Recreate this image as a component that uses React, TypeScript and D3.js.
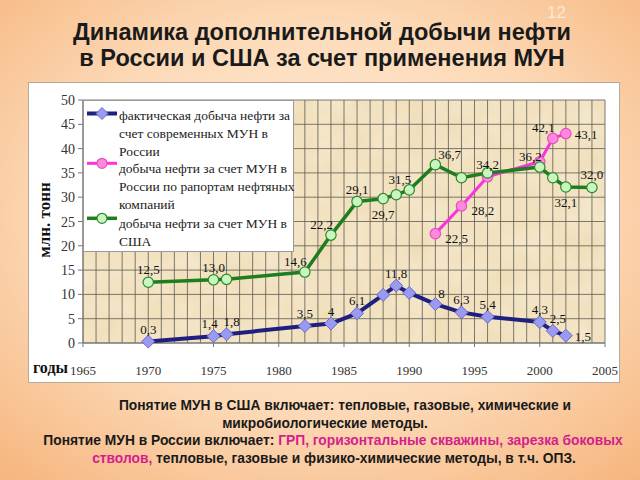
import React from "react";
import * as d3 from "d3";

const years = [1965, 1970, 1975, 1980, 1985, 1990, 1995, 2000, 2005];
const yTicks = [0, 5, 10, 15, 20, 25, 30, 35, 40, 45, 50];

const blueYears = [1970, 1975, 1976, 1982, 1984, 1986, 1988, 1989, 1990, 1992, 1994, 1996, 2000, 2001, 2002];
const blueValues = [0.3, 1.4, 1.8, 3.5, 4, 6.1, 9.9, 11.8, 10.3, 8, 6.3, 5.4, 4.3, 2.5, 1.5];
const blueLabels = ["0,3", "1,4", "1,8", "3,5", "4", "6,1", "", "11,8", "", "8", "6,3", "5,4", "4,3", "2,5", "1,5"];
const blueLabelPos = ["a", "a-", "a+", "a", "a", "a", "", "a", "", "ar", "a", "a", "a", "a+", "r"];

const pinkYears = [1992, 1994, 1996, 2000, 2001, 2002];
const pinkValues = [22.5, 28.2, 34.2, 37.3, 42.1, 43.1];
const pinkLabels = ["22,5", "28,2", "34,2", "", "42,1", "43,1"];
const pinkLabelPos = ["rb", "rb", "a", "", "al", "r"];

const greenYears = [1970, 1975, 1976, 1982, 1984, 1986, 1988, 1989, 1990, 1992, 1994, 1996, 2000, 2001, 2002, 2004];
const greenValues = [12.5, 13.0, 13.1, 14.6, 22.2, 29.1, 29.7, 30.5, 31.5, 36.7, 34.0, 35.0, 36.2, 34.0, 32.1, 32.0];
const greenLabels = ["12,5", "13,0", "", "14,6", "22,2", "29,1", "29,7", "", "31,5", "36,7", "", "", "36,2", "", "32,1", "32,0"];
const greenLabelPos = ["a", "a", "", "al", "al", "a", "b", "", "al", "ar", "", "", "al", "", "b", "a"];

const legendLines = [
  ["фактическая добыча нефти за", "счет современных МУН в", "России"],
  ["добыча нефти за счет МУН в", "России по рапортам нефтяных", "компаний"],
  ["добыча нефти за счет МУН в", "США"],
];

const titleLines = ["Динамика дополнительной добычи нефти", "в России и США за счет применения МУН"];

const W = 640, H = 480;
const plot = { left: 83, right: 605, top: 100, bottom: 343 };

const x = d3.scaleLinear().domain([1965, 2005]).range([plot.left, plot.right]);
const y = d3.scaleLinear().domain([0, 50]).range([plot.bottom, plot.top]);

const posOffsets: Record<string, { dx: number; dy: number; anchor: string }> = {
  a: { dx: 0, dy: -8, anchor: "middle" },
  "a-": { dx: -4, dy: -8, anchor: "middle" },
  "a+": { dx: 5, dy: -8, anchor: "middle" },
  al: { dx: 2, dy: -6, anchor: "end" },
  ar: { dx: 3, dy: -6, anchor: "start" },
  b: { dx: 0, dy: 20, anchor: "middle" },
  r: { dx: 9, dy: 5, anchor: "start" },
  rb: { dx: 10, dy: 9, anchor: "start" },
};

const serif = "'Liberation Serif', 'DejaVu Serif', serif";
const sans = "'Liberation Sans', Arial, sans-serif";

function Series({ xs, vs, color, width, marker, fill, stroke }: any) {
  const pts = xs.map((yr: number, i: number) => [x(yr), y(vs[i])] as [number, number]);
  const line = d3.line()(pts) || "";
  return (
    <g>
      <path d={line} fill="none" stroke={color} strokeWidth={width} strokeLinejoin="round" />
      {pts.map(([px, py]: [number, number], i: number) =>
        marker === "diamond" ? (
          <path key={i} d={`M${px},${py - 6.5}L${px + 6.5},${py}L${px},${py + 6.5}L${px - 6.5},${py}Z`} fill={fill} stroke={stroke} strokeWidth={1} />
        ) : (
          <circle key={i} cx={px} cy={py} r={5.2} fill={fill} stroke={stroke} strokeWidth={1.2} />
        )
      )}
    </g>
  );
}

function Labels({ xs, vs, labels, pos }: any) {
  return (
    <g fontFamily={serif} fontSize={13} fill="#111">
      {xs.map((yr: number, i: number) => {
        if (!labels[i]) return null;
        const o = posOffsets[pos[i]];
        return (
          <text key={i} x={x(yr) + o.dx} y={y(vs[i]) + o.dy} textAnchor={o.anchor}>
            {labels[i]}
          </text>
        );
      })}
    </g>
  );
}

export default function App() {
  const gridYears = d3.range(1965, 2006, 1);
  const legendStarts = [115, 168.3, 223.3];
  const legendMarkerY = [113.5, 163.3, 218.3];
  const legendStyles = [
    { color: "#1f1f80", width: 4, marker: "diamond", fill: "#9a9af0", stroke: "#6a6ad0" },
    { color: "#ff30e0", width: 3, marker: "circle", fill: "#ff88dd", stroke: "#e050c0" },
    { color: "#1e7d1e", width: 3.5, marker: "circle", fill: "#c8f5c0", stroke: "#2a8a2a" },
  ];
  return (
    <svg width={W} height={H} style={{ position: "absolute", left: 0, top: 0 }}>
      <defs>
        <radialGradient id="bg" cx="50%" cy="45%" r="75%">
          <stop offset="0%" stopColor="#fff1e2" />
          <stop offset="55%" stopColor="#fcd9b6" />
          <stop offset="100%" stopColor="#f6b47c" />
        </radialGradient>
        <filter id="paper" x="0" y="0" width="100%" height="100%">
          <feTurbulence type="fractalNoise" baseFrequency="0.035" numOctaves="3" seed="4" result="n" />
          <feColorMatrix in="n" type="matrix" values="0 0 0 0 0.96  0 0 0 0 0.90  0 0 0 0 0.78  0 0 0 0.55 0" result="c" />
          <feComposite in="c" in2="SourceGraphic" operator="in" />
        </filter>
      </defs>
      <rect x={0} y={0} width={W} height={H} fill="url(#bg)" />
      <text x={547} y={18} fontFamily={sans} fontSize={17} fill="#fde8d4">12</text>
      <g fontFamily={sans} fontWeight="bold" fontSize={23.5} fill="#1a1a1a" textAnchor="middle">
        {titleLines.map((t, i) => (
          <text key={i} x={322} y={40 + i * 26}>{t}</text>
        ))}
      </g>

      <rect x={28.5} y={82.5} width={591} height={300} fill="#ffffff" stroke="#b9a99a" strokeWidth={1} />

      <rect x={plot.left} y={plot.top} width={plot.right - plot.left} height={plot.bottom - plot.top} fill="#efdcb4" />
      <rect x={plot.left} y={plot.top} width={plot.right - plot.left} height={plot.bottom - plot.top} fill="#f6ead0" filter="url(#paper)" />

      <g stroke="#5d5a52" strokeWidth={0.8}>
        {gridYears.map((yr) => (
          <line key={yr} x1={x(yr)} x2={x(yr)} y1={plot.top} y2={plot.bottom} />
        ))}
        {yTicks.map((v) => (
          <line key={v} x1={plot.left} x2={plot.right} y1={y(v)} y2={y(v)} />
        ))}
      </g>
      <g stroke="#777" strokeWidth={1}>
        <line x1={plot.left} x2={plot.right} y1={plot.bottom} y2={plot.bottom} />
        <line x1={plot.left} x2={plot.left} y1={plot.top} y2={plot.bottom} />
        {yTicks.map((v) => (
          <line key={v} x1={plot.left - 5} x2={plot.left} y1={y(v)} y2={y(v)} />
        ))}
        {years.map((yr) => (
          <line key={yr} x1={x(yr)} x2={x(yr)} y1={plot.bottom} y2={plot.bottom + 4} />
        ))}
      </g>
      <g fontFamily={serif} fontSize={14} fill="#333" textAnchor="end">
        {yTicks.map((v) => (
          <text key={v} x={75} y={y(v) + 5}>{v}</text>
        ))}
      </g>
      <g fontFamily={serif} fontSize={13} fill="#333" textAnchor="middle">
        {years.map((yr) => (
          <text key={yr} x={x(yr)} y={375}>{yr}</text>
        ))}
      </g>
      <text x={33} y={373} fontFamily={serif} fontWeight="bold" fontSize={16} fill="#111">годы</text>
      <text transform="translate(50,220) rotate(-90)" textAnchor="middle" fontFamily={serif} fontWeight="bold" fontSize={17} fill="#111">млн. тонн</text>

      <Series xs={blueYears} vs={blueValues} {...legendStyles[0]} />
      <Series xs={pinkYears} vs={pinkValues} {...legendStyles[1]} />
      <Series xs={greenYears} vs={greenValues} {...legendStyles[2]} />
      <Labels xs={blueYears} vs={blueValues} labels={blueLabels} pos={blueLabelPos} />
      <Labels xs={pinkYears} vs={pinkValues} labels={pinkLabels} pos={pinkLabelPos} />
      <Labels xs={greenYears} vs={greenValues} labels={greenLabels} pos={greenLabelPos} />

      <rect x={83.5} y={100.5} width={210} height={151} fill="#ffffff" stroke="#9a9a9a" strokeWidth={1} />
      {legendLines.map((lines, i) => {
        const st = legendStyles[i];
        const my = legendMarkerY[i];
        return (
          <g key={i}>
            <line x1={87} x2={117} y1={my} y2={my} stroke={st.color} strokeWidth={st.width} />
            {st.marker === "diamond" ? (
              <path d={`M102,${my - 6}L108,${my}L102,${my + 6}L96,${my}Z`} fill={st.fill} stroke={st.stroke} />
            ) : (
              <circle cx={102} cy={my} r={5} fill={st.fill} stroke={st.stroke} strokeWidth={1.2} />
            )}
            {lines.map((t, j) => (
              <text key={j} x={119} y={legendStarts[i] + j * 18.3 + 4.5} fontFamily={serif} fontSize={13.5} fill="#222">{t}</text>
            ))}
          </g>
        );
      })}

      <g fontFamily={sans} fontWeight="bold" fontSize={13.8} fill="#1a1a1a" textAnchor="middle">
        <text x={345} y={410}>Понятие МУН в США включает: тепловые, газовые, химические и</text>
        <text x={325} y={428}>микробиологические  методы.</text>
        <text x={333} y={445}>
          Понятие МУН в России включает: <tspan fill="#d41f8c">ГРП, горизонтальные скважины, зарезка боковых</tspan>
        </text>
        <text x={334} y={463}>
          <tspan fill="#d41f8c">стволов,</tspan> тепловые, газовые и физико-химические  методы, в т.ч. ОПЗ.
        </text>
      </g>
    </svg>
  );
}
